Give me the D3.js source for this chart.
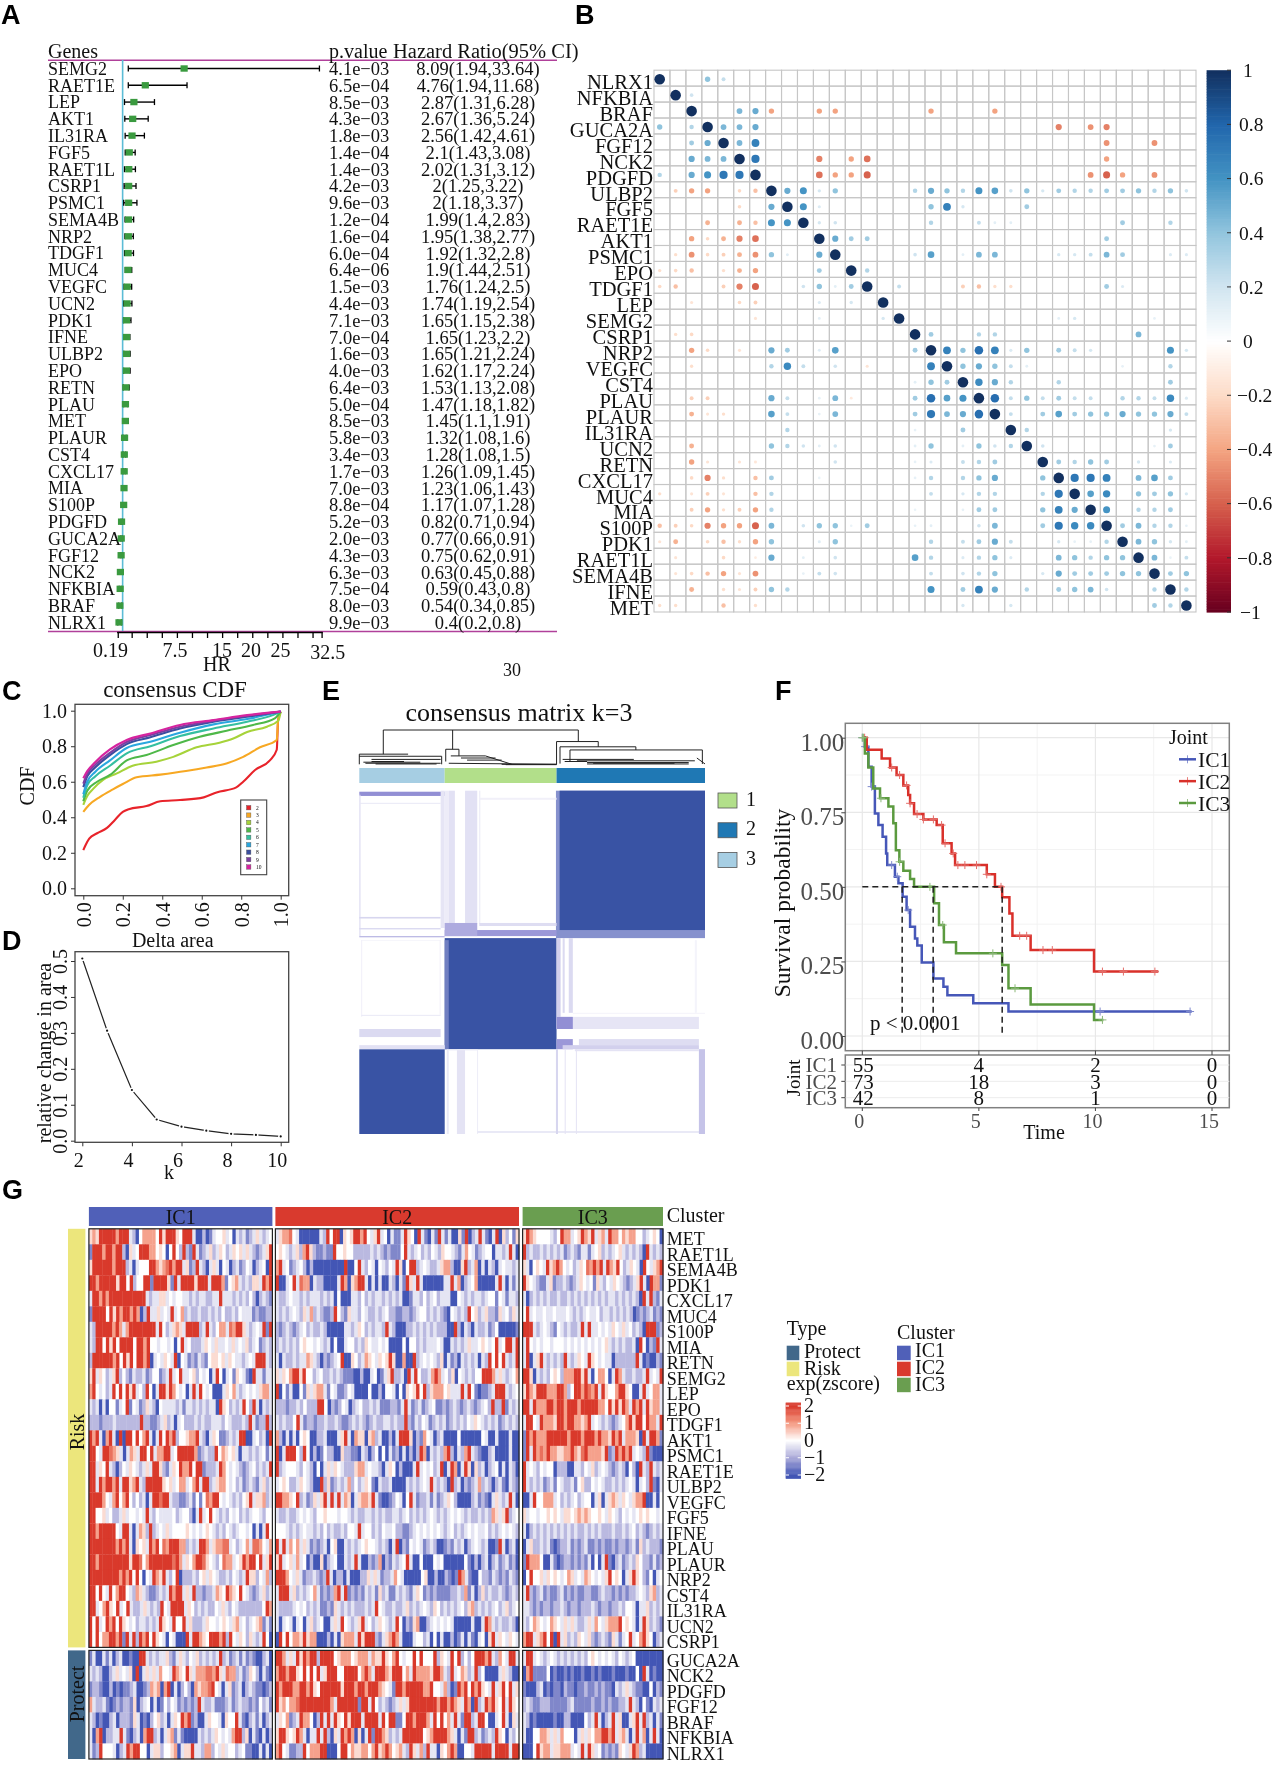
<!DOCTYPE html>
<html>
<head>
<meta charset="utf-8">
<script src="https://cdnjs.cloudflare.com/ajax/libs/d3/7.8.5/d3.min.js"></script>
<style>
  html, body { margin: 0; padding: 0; background: #fff; }
  svg { display: block; filter: blur(0.35px); }
  text { font-family: "Liberation Serif", serif; fill: #111; }
  .tag { font-family: "Liberation Sans", sans-serif; font-weight: bold; font-size: 27px; fill: #000; }
</style>
</head>
<body>
<div id="chart"></div>
<script>
// --- panel A: univariate cox
const coxGenes = ["SEMG2","RAET1E","LEP","AKT1","IL31RA","FGF5","RAET1L","CSRP1","PSMC1","SEMA4B","NRP2","TDGF1","MUC4","VEGFC","UCN2","PDK1","IFNE","ULBP2","EPO","RETN","PLAU","MET","PLAUR","CST4","CXCL17","MIA","S100P","PDGFD","GUCA2A","FGF12","NCK2","NFKBIA","BRAF","NLRX1"];
const coxP = ["4.1e−03","6.5e−04","8.5e−03","4.3e−03","1.8e−03","1.4e−04","1.4e−03","4.2e−03","9.6e−03","1.2e−04","1.6e−04","6.0e−04","6.4e−06","1.5e−03","4.4e−03","7.1e−03","7.0e−04","1.6e−03","4.0e−03","6.4e−03","5.0e−04","8.5e−03","5.8e−03","3.4e−03","1.7e−03","7.0e−03","8.8e−04","5.2e−03","2.0e−03","4.3e−03","6.3e−03","7.5e−04","8.0e−03","9.9e−03"];
const coxHr = [8.09,4.76,2.87,2.67,2.56,2.1,2.02,2,2,1.99,1.95,1.92,1.9,1.76,1.74,1.65,1.65,1.65,1.62,1.53,1.47,1.45,1.32,1.28,1.26,1.23,1.17,0.82,0.77,0.75,0.63,0.59,0.54,0.4];
const coxLow = [1.94,1.94,1.31,1.36,1.42,1.43,1.31,1.25,1.18,1.4,1.38,1.32,1.44,1.24,1.19,1.15,1.23,1.21,1.17,1.13,1.18,1.1,1.08,1.08,1.09,1.06,1.07,0.71,0.66,0.62,0.45,0.43,0.34,0.2];
const coxHigh = [33.64,11.68,6.28,5.24,4.61,3.08,3.12,3.22,3.37,2.83,2.77,2.8,2.51,2.5,2.54,2.38,2.2,2.24,2.24,2.08,1.82,1.91,1.6,1.5,1.45,1.43,1.28,0.94,0.91,0.91,0.88,0.8,0.85,0.8];
const semg2MarkerHr = 11.2; // the square sits here in the picture, not at 8.09
const hrTicks = [0.19,2.5,5,7.5,10,12.5,15,17.5,20,22.5,25,27.5,30,32.5,34];
const hrLabels = ["0.19","7.5","15","20","25","32.5"];
const hrLabelAt = [-1,9.7,17.5,22.3,27.2,35]; // printed off their ticks in the original

// --- panel B: correlation
const corrGenes = ["NLRX1","NFKBIA","BRAF","GUCA2A","FGF12","NCK2","PDGFD","ULBP2","FGF5","RAET1E","AKT1","PSMC1","EPO","TDGF1","LEP","SEMG2","CSRP1","NRP2","VEGFC","CST4","PLAU","PLAUR","IL31RA","UCN2","RETN","CXCL17","MUC4","MIA","S100P","PDK1","RAET1L","SEMA4B","IFNE","MET"];
// one row per gene: column index, value, column index, value ...
const corrRows = [
[0,1,3,.3,4,.15],
[1,1,2,.12],
[2,1,5,.35,6,.4,7,-.3,10,-.3,11,-.3,17,-.3,21,-.3],
[0,.3,2,.2,3,1,4,.35,5,.35,6,.4,25,-.4,27,-.35,28,-.4],
[2,.25,3,.4,4,1,5,.35,6,.6,28,-.35,31,-.35],
[2,.4,3,.35,4,.35,5,1,6,.65,10,-.4,12,-.3,13,-.45,28,-.3],
[0,.2,2,.4,3,.5,4,.65,5,.65,6,1,10,-.45,11,-.3,12,-.3,13,-.5,27,-.35,28,-.5,29,-.3,31,-.35],
[1,-.15,2,-.3,3,-.3,5,-.12,6,-.2,7,1,8,.4,9,.5,10,.1,11,.3,16,.2,17,.4,18,.3,19,.2,20,.5,21,.45,22,.12,23,.3,24,.1,25,.25,26,.2,27,.2,28,.25,29,.25,30,.3,31,.2,32,.3,33,.12],
[5,-.12,7,.4,8,1,9,.5,10,.08,17,.3,18,.6,19,.1,23,.25],
[3,-.25,5,-.25,6,-.2,7,.5,8,.5,9,1,10,.1,11,.12,17,.2,20,.15,21,.06,22,.06,29,.25,32,.2],
[2,-.3,3,-.12,4,-.25,5,-.4,6,-.45,10,1,11,.4,12,.25,13,.25,28,.25],
[1,-.1,2,-.35,3,-.12,4,-.15,5,-.25,6,-.35,7,.3,8,.07,10,.4,11,1,16,.12,17,.45,19,.06,20,.35,21,.35,25,.1,26,.1,27,.15,28,.35,29,.25,32,.08,33,.08],
[0,-.1,1,-.12,2,-.2,4,-.1,5,-.25,6,-.3,10,.25,12,1,13,.2],
[0,-.12,1,-.2,4,-.15,5,-.4,6,-.5,9,.12,10,.3,11,.06,12,.25,13,1,15,.15,19,-.15,20,-.2,21,-.1,22,-.1,28,.25,29,.08],
[2,-.08,5,-.12,6,-.15,10,.08,12,.1,14,1],
[6,-.08,10,.06,14,.1,15,1,25,.06,26,.1,31,.05],
[1,-.1,2,-.12,16,1,17,.25,20,.2,21,.2,30,.35],
[2,-.3,3,-.12,5,-.08,7,.4,8,.25,10,.07,11,.45,16,.25,17,1,18,.6,19,.3,20,.7,21,.6,22,.08,23,.3,25,.25,26,.15,27,.1,32,.5,33,.1],
[2,-.1,7,.2,8,.55,9,.15,11,.12,13,-.08,17,.6,18,1,19,.3,20,.4,21,.3,22,.15,23,.06,29,.05,32,.2],
[16,.06,17,.3,18,.25,19,1,20,.55,21,.4,22,.2,25,.2,32,.25],
[2,-.15,3,-.15,7,.4,8,.15,10,.05,11,.35,12,-.06,16,.25,17,.7,18,.45,19,.5,20,1,21,.7,22,.15,23,.3,24,.15,25,.25,26,.15,27,.15,29,.2,30,.2,31,.15,32,.55,33,.08],
[2,-.25,3,-.08,4,-.1,7,.45,8,.15,10,.05,11,.35,16,.25,17,.65,18,.35,19,.4,20,.7,21,1,22,.15,24,.25,25,.45,26,.25,27,.3,28,.3,29,.4,30,.3,31,.3,32,.4,33,.15],
[8,.2,16,.05,19,.25,22,1,23,.2,32,.1],
[2,-.25,7,.3,8,.2,9,.12,10,.06,11,.12,16,.06,17,.3,19,.06,20,.3,21,.12,22,.2,23,1,24,.12,31,.05,32,.25],
[2,-.3,3,-.08,5,-.08,6,-.07,11,.12,16,.05,17,.08,19,.15,20,.2,21,.25,24,1,25,.25,26,.2,27,.3,28,.25,30,.1,32,.08],
[2,-.12,3,-.4,4,-.1,6,-.2,7,.25,10,.04,16,.05,17,.2,19,.2,20,.3,21,.4,24,.3,25,1,26,.65,27,.65,28,.6,30,.35,31,.45,32,.25],
[0,-.1,2,-.08,3,-.15,4,-.08,6,-.2,7,.2,17,.15,19,.1,20,.2,21,.2,24,.2,25,.65,26,1,27,.45,28,.55,30,.3,31,.25,32,.3,33,.1],
[2,-.15,3,-.3,4,-.1,5,-.15,6,-.3,7,.2,16,.04,19,.05,20,.25,21,.25,24,.3,25,.6,26,.4,27,1,28,.5,30,.2,31,.2,32,.25],
[0,-.2,1,-.15,2,-.12,3,-.4,4,-.3,5,-.3,6,-.5,7,.35,9,.12,10,.3,11,.3,12,.04,13,.25,16,.05,17,.06,20,.12,21,.35,24,.25,25,.65,26,.55,27,.55,28,1,29,.25,30,.35,31,.2,32,.2,33,.05],
[0,-.08,1,-.25,3,-.12,4,-.2,5,-.1,6,-.3,7,.3,10,.07,11,.3,17,.2,19,.15,20,.25,21,.4,22,.15,25,.1,26,.05,27,.05,28,.2,29,1,30,.35,31,.3,32,.1,33,.06],
[1,-.08,4,-.12,6,-.05,7,.4,9,.06,11,.12,16,.45,17,.2,19,.08,20,.2,21,.3,22,.08,25,.35,26,.3,27,.2,28,.3,29,.3,30,1,31,.35,32,.04,33,.15],
[1,-.08,2,-.12,3,-.2,4,-.3,5,-.08,6,-.35,9,.05,10,.15,11,.12,17,.15,19,.12,20,.2,21,.3,24,.1,25,.4,26,.25,27,.25,28,.25,29,.3,30,.3,31,1,32,.25,33,.3],
[2,-.25,4,-.1,5,-.08,6,-.15,7,.3,8,.2,17,.5,19,.25,20,.6,21,.4,23,.2,25,.25,26,.3,27,.35,28,.12,31,.2,32,1,33,.2],
[0,-.1,1,-.1,4,-.2,6,-.1,19,.1,22,.1,31,.25,32,.2,33,1]
];
const corrStops = [-1,-.8,-.6,-.4,-.2,0,.2,.4,.6,.8,1];
const corrColors = ["#67001F","#B2182B","#D6604D","#F4A582","#FDDBC7","#FFFFFF","#D1E5F0","#92C5DE","#4393C3","#2166AC","#12305F"];

// --- panel C: consensus CDF, [x, y] read per k
const cdfK = [2,3,4,5,6,7,8,9,10];
const cdfColors = ["#e8232a","#f7a823","#a6d33a","#4eb848","#35bfa0","#2aa7df","#3a4fa0","#7b3fa0","#d6249f"];
const cdfCurves = [
[[0,.215],[.01,.24],[.03,.28],[.07,.31],[.12,.34],[.16,.385],[.2,.43],[.23,.445],[.32,.463],[.39,.49],[.49,.497],[.61,.512],[.675,.54],[.775,.568],[.81,.6],[.87,.666],[.945,.72],[.98,.78],[.987,.947],[1,.995]],
[[0,.43],[.03,.47],[.085,.515],[.15,.557],[.2,.587],[.27,.625],[.39,.64],[.52,.66],[.625,.68],[.725,.703],[.81,.74],[.895,.794],[.98,.835],[.987,.947],[1,.995]],
[[0,.47],[.02,.52],[.05,.56],[.1,.61],[.17,.647],[.25,.69],[.37,.713],[.456,.74],[.574,.794],[.69,.82],[.76,.844],[.83,.88],[.93,.91],[.988,.944],[1,.995]],
[[0,.49],[.02,.55],[.07,.6],[.135,.638],[.22,.72],[.32,.75],[.456,.807],[.59,.853],[.726,.887],[.86,.92],[.97,.957],[1,.995]],
[[0,.51],[.02,.58],[.06,.63],[.135,.69],[.22,.76],[.34,.8],[.49,.857],[.66,.9],[.83,.938],[.96,.975],[1,.995]],
[[0,.53],[.02,.6],[.06,.655],[.135,.72],[.22,.79],[.34,.825],[.49,.876],[.66,.923],[.83,.953],[1,.995]],
[[0,.57],[.02,.63],[.06,.68],[.135,.75],[.22,.812],[.34,.85],[.49,.9],[.66,.938],[.83,.966],[1,.995]],
[[0,.59],[.02,.645],[.06,.695],[.135,.763],[.22,.824],[.34,.863],[.49,.91],[.66,.944],[.83,.972],[1,.995]],
[[0,.62],[.02,.66],[.06,.71],[.135,.782],[.22,.835],[.34,.872],[.49,.92],[.66,.947],[.83,.975],[1,.995]]
];

// --- panel D: delta area
const deltaK = [2,3,4,5,6,7,8,9,10];
const deltaArea = [.507,.306,.141,.059,.039,.028,.019,.016,.012];

// --- panel E: consensus matrix, [sample0, sample1, row0, row1, level]
const sampleGroups = [["3",0,42,"#a6cee3"],["1",42,97,"#b2df8a"],["2",97,170,"#1f78b4"]];
const legendGroups = [["1","#b2df8a"],["2","#1f78b4"],["3","#a6cee3"]];
const consensusRects = [
[96.7,170,0,73,.72],[98.5,170,0,69,1],[42,97,73,128,1],[42,44,74,128,.8],[0,42,128,170,1],
[0,42,.5,2.6,.6],[0,.6,2,72,.18],[0,40,6,6.5,.12],[0,40,62.5,63.3,.22],[0,40,68,68.7,.2],[0,42,72,72.6,.4],
[40,42,0,68,.14],[42,44,0,66,.1],[44,47,0,66,.16],[52,58,0,66,.16],[59,59.5,0,66,.12],[59,97,3.5,4.5,.08],[59,97,65.5,67,.18],
[42,97,69,72,.55],[42,58,65.5,72,.45],
[97,99,73,112,.25],[100,101,73,110,.2],[103,105,73,110,.2],[97,167,112,118,.14],[97,105,112,118,.6],
[108,167,123,126,.18],[97,105,123,128,.55],[100,167,126,128,.25],[105,170,110,110.4,.08],[165,166,74,110,.06],
[1,40,74,74.3,.08],[1,1.4,74,112,.1],[1,40,111,111.5,.12],[39.5,40,74,111,.08],[0,40,118,122,.2],[0,42,126,128,.16],
[43,44,128,170,.12],[48,52,128,170,.15],[58,58.4,128,170,.12],[58,170,168.5,169.5,.12],[96.7,97.7,128,170,.22],
[101,101.5,128,170,.15],[106.5,107,128,170,.15],[167,170,128,170,.32],[106,167,128,129,.15],[44,58,128,128.6,.12]
];
// dendrogram segments: [sample0, height0, sample1, height1]
const dendroSegments = [
[11.8,1,107.7,1],[11.8,1,11.8,.31],[0,.31,24,.31],[0,.31,0,.02],[0,.25,40.5,.25],[40.5,.25,40.5,.02],[6,.16,40,.16],[6,.1,22,.1],[3,.05,40,.05],
[45.9,1,45.9,.45],[42.5,.45,49,.45],[42.5,.45,42.5,.1],[49,.45,49,.26],[45,.26,62,.26],[62,.26,75,.02],[50,.2,67,.2],[53,.14,70,.14],[44,.05,97,.02],[70,.02,97,.02],
[107.7,1,107.7,.67],[97,.67,117.5,.67],[97,.67,97,.02],[117.5,.67,117.5,.52],[98.7,.52,136,.52],[98.7,.52,98.7,.04],[136,.52,136,.43],[103.6,.43,168.7,.43],[103.6,.43,103.6,.1],[168.7,.43,168.7,.03],
[100,.16,135,.16],[107,.12,165,.12],[112,.07,162,.07],[112,.03,162,.03],[166,.2,170,.03],[101,.1,112,.1],
[2,.08,30,.08],[8,.03,38,.03],[72,.01,97,.01],[115,.05,155,.05]
];

// --- panel F: survival curves, [time, survival] at each drop
const kmNames = ["IC1","IC2","IC3"];
const kmColors = ["#4657b8","#d9302a","#5b9a3f"];
const kmSteps = [
[[0,1],[.11,.97],[.26,.903],[.4,.836],[.54,.746],[.69,.707],[.87,.668],[1.02,.612],[1.07,.573],[1.4,.534],[1.55,.512],[1.73,.467],[1.9,.422],[2.05,.366],[2.26,.327],[2.36,.303],[2.55,.246],[3.05,.193],[3.48,.165],[3.65,.137],[4.76,.11],[6.27,.082],[14.13,.082]],
[[0,1],[.19,.96],[.83,.93],[1.19,.9],[1.47,.875],[1.76,.84],[1.97,.808],[2.05,.78],[2.22,.744],[2.62,.726],[3.19,.707],[3.45,.646],[3.83,.612],[3.98,.573],[5.34,.542],[5.69,.5],[6,.465],[6.31,.411],[6.44,.336],[7.22,.288],[9.94,.216],[12.7,.216]],
[[0,1],[.11,.947],[.26,.9],[.47,.83],[.76,.797],[1.12,.769],[1.33,.713],[1.44,.623],[1.59,.584],[1.76,.554],[2.05,.526],[2.22,.5],[3.08,.445],[3.29,.372],[3.5,.314],[4.02,.277],[6,.238],[6.27,.16],[7.22,.106],[9.94,.054],[10.34,.054]]
];
const kmCensor = [
[0,.12,.4,1.26,1.5,1.97,10.2,14.06],
[.1,1.26,1.6,1.9,2.05,2.35,2.62,3.05,3.4,3.55,3.9,4.1,4.4,4.9,5.34,5.95,6.75,7.05,7.75,8.15,10.3,11.2,12.55],
[0,.05,.8,1.6,2.9,3.45,5.6,6.55,10.3]
];
const medianTimes = [1.71,3.04,6];
const riskTimes = [0,5,10,15];
const riskCounts = [[55,4,2,0],[73,18,3,0],[42,8,1,0]];

// --- panel G: expression heatmap, one letter per sample (B blue ... w white ... R red)
const heatLevels = { B:-2, b:-1.4, m:-.8, l:-.3, w:0, p:.35, o:.9, r:1.4, R:2 };
const heatGenes = ["MET","RAET1L","SEMA4B","PDK1","CXCL17","MUC4","S100P","MIA","RETN","SEMG2","LEP","EPO","TDGF1","AKT1","PSMC1","RAET1E","ULBP2","VEGFC","FGF5","IFNE","PLAU","PLAUR","NRP2","CST4","IL31RA","UCN2","CSRP1","GUCA2A","NCK2","PDGFD","FGF12","BRAF","NFKBIA","NLRX1"];
const heatTypes = ["Risk","Protect"];
const typeCounts = [27,7];
const typeColors = ["#ece67c","#41688a"];
const clusterNames = ["IC1","IC2","IC3"];
const clusterColors = ["#5060b8","#d93a2e","#6a9e50"];
const heatIC1 = [
"popRRRRRoRRRlmBwoooowRpRRRpwRRRlBBmBblwwplwBlmlbmlplmlw",
"bRRRoRRoRRmBplwRRRoowpwBwRwmRmbRlbmlpmlpwmlpwplplmbmlpR",
"pRRRRRRoRRRmlBlwwwRRoporRoRRlpbmRlmBlplBwlBmlbmwlBmlwBR",
"RRoRRRRRpRRwRmwwRRbRRRRpbRlRRRRpRRRlRRRobwpolmlmpplRoR",
"lRRoRoRRRRRRRRRRRlmllpplwlwwllmlmllmmllRlllmlmlmwmBmlmb",
"bRRRRwRpRoRRoRoBmRllplwlRlwomlmmlmmlmlmwmmlmwlllbmbbmm",
"lmRRRRRoRoloRRRRRRRRlRwmlpoplRRRRmlRlmwoolroRRplmlwlRbR",
"lmRRwRpRwRRRRwRRoRwwlwwlwBwRlwmmmlpwlpllwlplwlpmlwbmlm",
"mRRRRRRoRwRpRwRRoRBlwlpwlRBwlbmblmbwppwplpwllmlwlRRRlm",
"pRlpwmlpRmwmblmmlbmwwbmlRlwRllwpmwlwBlRwBlwbpwlbBRllbll",
"oRwlwmlRwRwRpRlwmRwBlRRpRowlwBlRlRwlwBBBlpwolmlwlwlpool",
"lmlBlBwwblwRbwlbmplmBwllllmlbllmlmlmllBRpwmlmlRwmRlBlml",
"mmmbmmmlmmmmmmmRmmbbmlpmlBlwmmmlmlmmlllmwlmmmlmRlbmmRm",
"RoRlBoRlBRBRRwRwoRlBlRwRoRmwwpooRlmBlpwbbmlmlRRBBlwmlBR",
"RRwlRRroplBloplRRwRlooRRlwRRRRRobmlmmRwopwplBllmlmlwbl",
"RRlpwRlmBmwlpwlmlplRRpmblpwRooRwRRbmmmlRowlwlmbmlwmlmlR",
"RRlRoRRoRlRRpoRlmRRRRRpwplwoolwoRlRRmlpoowlwmlbmlmblpml",
"RRRRowloRwoRwmwmlBlRRrRRlmmbbmlbwbwroRRwlwlmlmwpRlppoml",
"RRwwplwmmlplwwlwlRlmwllllwmlwwmBlRlwRwlmlmwlwmlmlwwlmww",
"RRoRRRRRwlRRlBlopmRmlwlplwwwwpwlwlwpwlmlmwlmlwwlwBlBlRw",
"RRRRRRRRoRoRlBpwplRoRwroRRRoomlmlRRolpoorrlwmlwolrrowlo",
"RRoRRRRRRRRRpRRrwoRRRRRRRrRolpwoRRrpwlmwroolwpRoRRwRlpR",
"RRRRRRRRRoRoRwRwBwlRopRlmwRBmmmlmwplpwlmmlmwlmlRppmwlom",
"RRwRwlRwoRRwlmoplmbbmlmlRoRRlplRmmbmmlopwRopwRwlmbmlpml",
"RRlwoRpwRlwRlmmlplmlmRwlRRRRlpwmlmlmmwlplmwlmmmmmmmwRo",
"RwRlwRoRwRpwlwmllmlmlRpwlRwwRlpmmmlpwwlwpwlpolwmlwpoblb",
"RwRwooRRoRbRlRmRoRwRpwlBwlBBBRlRRopwRRRoRmRwlpwmplmlRwB",
"blBBlblBmlBBbBBRRlmlmllpmblplmwlpmlmlmlRmlbmlblbmbBBmlB",
"lmlmBBmlplwlpBRBlplplowwlRopwRplooorroRplroomlbmpwmBlbB",
"bmmbBBmBbBbbmlBBbmopoBoRBlBmwmBopoorRwlBlpbmlBmlmbbBbm",
"olmmlbBbmbmmbpBmlwBlBbwmwlbmbmbmRlmmlbbbmlbmlmmbmbwmlb",
"lmBbBBmlBmmmbplBbBmwpmlBlpwRoRbmBBlpwwlBpwwRlbBmlblBml",
"lBoRBmmllRlbBmlBoRRmlBlpoblbBBBBlmlmlpwlwloRRmpBlbBlBm",
"lbmRwwwlBmlRoRRwwBlppmwwpoBlppRllmoomwlplwwmlwbbBBlBlB"
];
const heatIC2 = [
"lpoorwlBBBBBBlmRwRRBpwpRRoRwlpRlwBlbblRpwBRlbBlbRlblBBpbRBmlRlbBlRBpmwbp",
"wpwlmlpmoRpmbbmbbRwwpwwmmmmmlmlmbmbbbwRlmlwmlmwlmpwwlmblowlbmlwwBllmlRlB",
"oRlwbmlwmBmBBBBBBBBBRBBwRlmwlBwlmwlRpBwRRmlwlmmlpoomBBpRmloBlBlmBlwllml",
"RBBlwRlrooBlmmBBBBlRoBpoRRlBlBlBBlmBlbRplRlBBBBBBllRloBmlwoBBBBBlRlBlbl",
"lmmlwllmlmlllmlmlBwBBBllmwmlmllmlmlmlBBbllmwmlwmlllBBwlmlmllmlwwbwlbllm",
"lmlmlwlmplomlmbbmRwmbpllmwlmmlmlwmmbbmmbmlwwmlmlmbBwlmlmRwpmlpmmbplwmpl",
"mbmlmbmlwmlmmlmBBBBBllmlpwmlmllmRlmBBBmmlmlmlmlmmmBBRmBlmBlmmlbmwBBBBBb",
"mlmlmlmwpwwlwlmlBwBBlwwmlmpwllwlwBBBBwBwwmlmlllwlBBlmlmlpllwpwlwRlwRRlR",
"lBlmmlmlloplmBmbmlwRBBpwmlopwlpwpRpBBoBBRmlwlwlmpBlbmBlmlmlBlmRwRwRlmlR",
"plpwoRRpRwwmlwmmlmlmbbbBBmBBlwBblpRmmlBRlRwmmloRolwmpBwlmlmwwRRRolplmlwo",
"RBwblBBwbplpoolbwlbbmwlBBBBwBBmBwwlBwBpwpRwRmpooowplllRlRwbBbbmlRRRlmlw",
"mmmbmmlmwmmmRRwBmbmwlBmlwmmlmlbbbmmblRlbmlbmlwbbmbmlmbmlmbmlwmRmmRblml",
"lmlmmwRlbmmbmmlmmlmbbmlmlmbmlmmllmlmmRmblmwlbmlmlbmlmlmwlpwlmlmlbmlmlm",
"omBlBlBwpwBBmmlBBBlpRlBoppBpomlBBmBlRRRpBmbowlBmlBBBBwBBBBBBwlBBlBBBlBB",
"RBlRRRwmRwBmBbwmmBBpmmbbBlmBmwBwBlbmBlBmBmRoBlmlmoRmBlmoRlmbBBmlBBBBlBB",
"RmlwwwlmwlmBwBlplpwlmmmpoolwllmBlpwBmBBBlRlwlwmlRBlRoBlRpBpmlBmlwBlBlmB",
"lwpwmmlpwlmBBRmpbmlmlomwmlpwbBlmmlBBBBlmlmlwlRlmlmBRmlBmbmlomlmBmlbBlmb",
"RRoopwRmlbmplpRlRlRlopBlpoopRlbBBbmwlBwRlbmmlblbmlpwmBBBBmlbmbBlplmlRlB",
"lmmlmmlwlwlmwwpwwwlwwlmlmmllmlmlmmllmlwmlmlmlwlmlmlwlwlmlmmlmlmoplpRmlw",
"wwwlmlmlwllmlmwmlmmlmwwlRlwwmlmwllwmmbbmlwlwlwlwlmlwmlmlwlwllwmlmlwlwlm",
"RlRlowolplbmbmlBwpBBlmlmlwpwwlmlmBlRBmbwlwlbmlmBBbmblmlBmlwlmlBBbRlBmlB",
"pRlwplolwBmBBpBmlwBBlmlRlBBmbmoBmblmlwRlBBwBBBwlwBBBBBBwbBmBmlBmlbmlbmB",
"RRRowlplbmmlmbmRlBmmBlBBBmmplplbmmlowlBBBBBwpBBmBBmbBbRolbBBwmmblmbmblmb",
"lRRRlpmlmlwolbmbmoRlRbmbmblmlbpmlbblmlmblpwbmbmbbbbmmlmoblBmpmlmmlmbmlm",
"lmmmmlwlwmlmlbbmbplmlmlmmmlmlRwlmmlmmlpmlmlwlmpwmlmlmlwmpomlmlmlwmlpmlw",
"lBlwlBlwBlpmlwBBlplRwlmlpRlwmlpwlmlRwBmbpoBBmlwlwlwlBBBBBlBBlRolmlmmlmB",
"BRwRwoopRpooBBBmBlBpooolRpRRRmblpoRolBBBlwwmlBwBlBBmBblBlbBlwBpRlpwlpwl",
"RRolplRpRoRRmRRRRwpooowpoooloppRpwoRwlwwRwRwwwRmpwlRwRmwmwRRRoRlmowlRRl",
"oRRoRRpwRwRwRlpRRRwwRRRRwoRolRRRopRRRwolRoooopRRolmRlwopmlRmwBBBBlplmBB",
"RoRRRooRRoRpwRRRRRRpRRRoRRoRRRopwlbRRoRRRRRooRwwlomBbRoRwRoRpwlRlpRwRlp",
"RpowoorRRRRRRRRRolRRRRRRbRRlRwmlmbmlplpRRRRRRRRoRRoRoplRoBRmlRoRpwRlRpw",
"lpwobmlRoowBmRlRlRpwRpRRRlRRRRlRwRRbbwRRoRRRolRwRwolRlbRRmlRRwBBlwRlBpl",
"pRRpwpRolBllRlRmBplRoRoBpBlRbRRopmlmlRRRRRRwpoRRRRoplBlbRRmlbmlmRpwBlmw",
"oRwlbbmmRwoooRRBBBwRRwoppoowoRpoRowpolmRplomRllBpwoRoBBwwlRRRRRlRRRRlRR"
];
const heatIC3 = [
"pRopwwwwlmwRoolwpRopRlpolRoowopoowwmlwpwB",
"RmlmmlmlmlmlbmlmbllblwpmlmlwplmlmlmBRlmlm",
"plBwpwlRpoRowlwmlpwroRoRlRopRwmlpwlBRwlpoR",
"RpwlmbblpbmmlmbmlpwlwbplmwlpwlmbmlpRlBRoob",
"lBmlmlmlmmlmmlmlmlmlmlmlmllmlmlmlmBRlRmbl",
"wRlwllwllwlllwlmlmlwllwmllmlmlmlmBbmbmlbmb",
"RRRlmlwlmbwlmlmmlRlRllwlwlpwlplwmlmBRRRbm",
"lRwlwlwwlwwwlwlwlwlwlwlwplmlmlmmlBRwBmbRl",
"lRBlpRlmlmlmRlmlpwlRpwlwllBmmmmmmRlBbBBmb",
"RRpBlmlmwpwmoooRRpRlBwoowBlRolmmlmmlRlwlR",
"pRopRRRoooRRomwRRoRroRlRpwwoRRpwBBlRlwool",
"RRlRoooRRoRRoRRRoRRRRRoowRpRpRolRoRlRpool",
"lRRwlRooopRRoRRoopoRlwlmlmbmlwoRpRRwRoolR",
"bRoRoooRRRRRRoRRRoRRRoRoopRoRlooopBRlRRob",
"bRlRoroRooppooRoprRoooopRbmRoRoRlwlmRbBBB",
"RlwlmwlwwBmmmBBllmwlpmlwlmbmlmBwmBRlmRlml",
"RlmlmlbmlbwlmmlbwpmmwlwlmmlmlmlwlBlwmRbBl",
"BBlRwwooolwmlmlwmlwwBlpBlpoplpwlpooRBBlBw",
"plwwlwwpwpwlppwpopopwwpwlpwlmwlwlwpwpwwlw",
"lBmlmlmlmlmlmlmlmmlmlmlmmmlmmlmlwmlmbmlml",
"BlpmmlmlbBbmmlbmbmlbbmbmbbmbmmbmlbpmlmmmb",
"bRooowBBlbBbmmbmbmblBwBlRbBmlbmlmpwmmblbm",
"BwRwwplpwpwlwoplwlopwlwlpRwpwBlpRpwmbwBlw",
"lRmbmlbmbbmlbmbmbbmmbbmlmmbmbmbmmlwlmpoml",
"llmbmbmmbmmlmbmmbmmmlmbmmbmmlmwwlBllpmlml",
"lmwopwlwopwlplplmmlplowlpoooRwpwlBlRpmlmb",
"oRRlpoRwRBRlpmlmpwlpmbmlmbplblwRlwoRpwBml",
"lRRlwlmlwlmlmlmlmlmwpwlwlwlmwlmlwBBBBBBBB",
"BoRbbbbwBbBBbBbBBbBBbBbBBBbBBBbBBwBRlBbBB",
"bBBBmlBbBbbBmbbBbbmbbmbmbbBlmlplmbbBBwBmb",
"mlmbbmmmbbbbbmlbbbbbmbbmbmbbmmlRlmBwbBlml",
"lmBbBBBBBbBBmmBBBBwmlRlBmlRlpBBlpRlRmlBlb",
"lBBwwooplplowwwBlplpwooRRoRlpolBlRloBlRlB",
"BBBwRpoolppooolwlRlRplwbmbmbpwlpRomlBBBBB"
];

const svg = d3.select("#chart").append("svg").attr("width", 1273).attr("height", 1765);

const txt = (g, x, y, str, size, anchor = "start", rotate = 0) =>
  g.append("text")
    .attr("transform", `translate(${x},${y})` + (rotate ? ` rotate(${rotate})` : ""))
    .attr("dy", ".35em")
    .attr("text-anchor", anchor)
    .attr("font-size", size)
    .text(str);

[["A", 1, 24], ["B", 575, 24], ["C", 2, 700], ["D", 2, 950], ["E", 322, 700], ["F", 775, 700], ["G", 2, 1199]]
  .forEach(([t, x, y]) => svg.append("text").attr("class", "tag").attr("x", x).attr("y", y).text(t));

// ---------- A
(function () {
  const g = svg.append("g");
  const x = d3.scaleLinear().domain([0, 34.1]).range([116.6, 322.2]);
  const y = d3.scalePoint().domain(coxGenes).range([68.5, 622.4]);
  const purple = "#b0409a";
  g.append("line").attr("x1", 48).attr("x2", 557).attr("y1", 60.3).attr("y2", 60.3).attr("stroke", purple).attr("stroke-width", 1.4);
  g.append("line").attr("x1", 48).attr("x2", 557).attr("y1", 631.5).attr("y2", 631.5).attr("stroke", purple).attr("stroke-width", 1.4);

  const axis = g.append("g").attr("transform", "translate(0,632)")
    .call(d3.axisBottom(x).tickValues(hrTicks).tickFormat("").tickSize(6).tickSizeOuter(0));
  axis.selectAll("line").attr("stroke", "#000").attr("stroke-width", 1.3);
  axis.select(".domain").attr("stroke", "#000").attr("stroke-width", 1.6);
  g.append("line").attr("x1", x(1)).attr("x2", x(1)).attr("y1", 60).attr("y2", 631).attr("stroke", "#5bbcd6").attr("stroke-width", 1.6);

  txt(g, 48, 51, "Genes", 20);
  txt(g, 329, 51, "p.value", 20);
  txt(g, 393, 51, "Hazard Ratio(95% CI)", 20.5);

  coxGenes.forEach((d, i) => {
    const row = y(d);
    txt(g, 48, row, d, 18);
    txt(g, 329, row, coxP[i], 18.5);
    txt(g, 478, row, `${coxHr[i]}(${coxLow[i]},${coxHigh[i]})`, 18.5, "middle");
    g.append("line").attr("x1", x(coxLow[i])).attr("x2", x(coxHigh[i])).attr("y1", row).attr("y2", row).attr("stroke", "#000").attr("stroke-width", 1.4);
    [coxLow[i], coxHigh[i]].forEach((v) =>
      g.append("line").attr("x1", x(v)).attr("x2", x(v)).attr("y1", row - 3).attr("y2", row + 3).attr("stroke", "#000").attr("stroke-width", 1.3));
    const mark = i === 0 ? semg2MarkerHr : coxHr[i];
    g.append("rect").attr("x", x(mark) - 3.6).attr("y", row - 3.2).attr("width", 7.2).attr("height", 6.4).attr("fill", "#3a9a3f");
  });

  hrLabels.forEach((d, i) => txt(g, x(hrLabelAt[i]), i === 5 ? 652 : 650, d, 20, "middle"));
  txt(g, 217, 664, "HR", 20, "middle");
  txt(g, 512, 670, "30", 18, "middle");
})();

// ---------- B
(function () {
  const g = svg.append("g");
  const color = d3.scaleLinear().domain(corrStops).range(corrColors);
  const cell = d3.scaleBand().domain(corrGenes);
  const xGrid = cell.copy().range([654, 1196]);
  const yGrid = cell.copy().range([70.2, 612]);
  const xDot = d3.scalePoint().domain(d3.range(34)).range([659.7, 1186.4]);
  const yDot = d3.scalePoint().domain(d3.range(34)).range([79.2, 605.5]);
  const r = d3.scaleLinear().domain([0, 1]).range([0.9, 5.3]);
  const boost = d3.scalePow().exponent(0.75).domain([0, 1]).range([0, 1]);

  corrGenes.forEach((a) => corrGenes.forEach((b) => {
    g.append("rect").attr("x", xGrid(a)).attr("y", yGrid(b)).attr("width", xGrid.bandwidth()).attr("height", yGrid.bandwidth())
      .attr("fill", "none").attr("stroke", "#c6c6c6").attr("stroke-width", 1.1);
  }));
  corrRows.forEach((row, i) => {
    for (let k = 0; k < row.length; k += 2) {
      const v = boost(Math.abs(row[k + 1]));
      g.append("circle").attr("cx", xDot(row[k])).attr("cy", yDot(i)).attr("r", r(v)).attr("fill", color(Math.sign(row[k + 1]) * v));
    }
  });
  corrGenes.forEach((d, i) => txt(g, 653, yDot(i) + 2.5, d, 20.5, "end"));

  const bar = d3.scaleLinear().domain([-1, 1]).range([612, 70.2]);
  d3.range(-1, 1, 0.01).forEach((v) =>
    g.append("rect").attr("x", 1206.6).attr("width", 24.4).attr("y", bar(v + 0.01)).attr("height", bar(v) - bar(v + 0.01) + 0.6).attr("fill", color(v + 0.005)));
  corrStops.forEach((v) => {
    g.append("line").attr("x1", 1227).attr("x2", 1231).attr("y1", bar(v)).attr("y2", bar(v)).attr("stroke", "#333").attr("stroke-width", 1);
    const s = v === 0 ? "0" : (v < 0 ? "−" : "") + (Math.abs(v) === 1 ? "1" : Math.abs(v).toFixed(1));
    const single = v === 0 || v === 1;
    txt(g, single ? 1243 : (v === -1 ? 1240 : (v < 0 ? 1237 : 1239)), bar(v), s, 19.5);
  });
})();

// ---------- C
(function () {
  const g = svg.append("g");
  const x = d3.scaleLinear().domain([0, 1]).range([83.3, 280.7]);
  const y = d3.scaleLinear().domain([0, 1]).range([888.3, 710.7]);
  const line = d3.line().x((d) => x(d[0])).y((d) => y(d[1])).curve(d3.curveMonotoneX);
  cdfCurves.forEach((c, i) =>
    g.append("path").attr("d", line(c)).attr("fill", "none").attr("stroke", cdfColors[i]).attr("stroke-width", 2.1));
  g.append("rect").attr("x", 75).attr("y", 704.3).attr("width", 213.7).attr("height", 191.4).attr("fill", "none").attr("stroke", "#444").attr("stroke-width", 1.3);

  const ax = g.append("g").attr("transform", "translate(0,895.7)").call(d3.axisBottom(x).ticks(5).tickFormat(d3.format(".1f")).tickSize(4));
  ax.select(".domain").remove();
  ax.selectAll("text").attr("y", null).attr("dy", ".35em").attr("font-size", 20).attr("font-family", "Liberation Serif")
    .attr("transform", "translate(0,19) rotate(-90)");
  const ay = g.append("g").attr("transform", "translate(75,0)").call(d3.axisLeft(y).ticks(5).tickFormat(d3.format(".1f")).tickSize(4));
  ay.select(".domain").remove();
  ay.selectAll("text").attr("x", -8).attr("font-size", 20).attr("font-family", "Liberation Serif");
  g.selectAll(".tick line").attr("stroke", "#333");

  txt(g, 175, 689, "consensus CDF", 23, "middle");
  txt(g, 27, 786, "CDF", 20, "middle", -90);

  g.append("rect").attr("x", 240.7).attr("y", 800).attr("width", 26).attr("height", 74.7).attr("fill", "#fff").attr("stroke", "#444").attr("stroke-width", 1.1);
  const ly = d3.scalePoint().domain(cdfK).range([807.7, 867]);
  cdfK.forEach((k, i) => {
    g.append("rect").attr("x", 246.5).attr("y", ly(k) - 2.2).attr("width", 4.4).attr("height", 4.4).attr("fill", cdfColors[i]).attr("stroke", "#555").attr("stroke-width", 0.4);
    txt(g, 256, ly(k), k, 5.5);
  });
})();

// ---------- D
(function () {
  const g = svg.append("g");
  const x = d3.scaleLinear().domain([2, 10]).range([82.3, 280.7]);
  const y = d3.scaleLinear().domain([0, 0.5]).range([1140.7, 961]);
  const pts = deltaK.map((k, i) => [x(k), y(deltaArea[i])]);
  g.append("path").attr("d", d3.line()(pts)).attr("fill", "none").attr("stroke", "#222").attr("stroke-width", 1.2);
  pts.forEach((p) => {
    g.append("circle").attr("cx", p[0]).attr("cy", p[1]).attr("r", 2.6).attr("fill", "#fff");
    g.append("circle").attr("cx", p[0]).attr("cy", p[1]).attr("r", 1.1).attr("fill", "#111");
  });
  g.append("rect").attr("x", 75).attr("y", 951.7).attr("width", 213.7).attr("height", 190.6).attr("fill", "none").attr("stroke", "#444").attr("stroke-width", 1.3);

  const ax = g.append("g").attr("transform", "translate(0,1142.3)").call(d3.axisBottom(x).tickValues([2, 4, 6, 8, 10]).tickSize(4));
  ax.select(".domain").remove();
  ax.selectAll("text").attr("y", null).attr("dy", ".35em").attr("font-size", 20).attr("font-family", "Liberation Serif").attr("transform", "translate(-4,18)");
  const ay = g.append("g").attr("transform", "translate(75,0)").call(d3.axisLeft(y).tickValues([0, .1, .2, .3, .4, .5]).tickFormat(d3.format(".1f")).tickSize(4));
  ay.select(".domain").remove();
  ay.selectAll("text").attr("x", null).attr("dy", ".35em").attr("font-size", 20).attr("font-family", "Liberation Serif").attr("text-anchor", "middle")
    .attr("transform", "translate(-15,0) rotate(-90)");
  g.selectAll(".tick line").attr("stroke", "#333");

  txt(g, 172.7, 940, "Delta area", 20, "middle");
  txt(g, 169, 1172, "k", 20, "middle");
  txt(g, 44, 1053, "relative change in area", 20, "middle", -90);
})();

// ---------- E
(function () {
  const g = svg.append("g");
  const x = d3.scaleLinear().domain([0, 170]).range([359.3, 705]);
  const y = d3.scaleLinear().domain([0, 170]).range([790.7, 1134]);
  const h = d3.scaleLinear().domain([0, 1]).range([765, 730]);
  // faint strips run lavender, the solid blocks run a plain dark blue
  const level = (v) => v < 0.7 ? d3.interpolateRgb("#ffffff", "#4a44b8")(v) : d3.interpolateRgb("#8c95d0", "#3953a4")((v - 0.7) / 0.3);

  txt(g, 519, 712, "consensus matrix k=3", 26, "middle");
  dendroSegments.forEach((s) =>
    g.append("line").attr("x1", x(s[0])).attr("y1", h(s[1])).attr("x2", x(s[2])).attr("y2", h(s[3])).attr("stroke", "#222").attr("stroke-width", 1));
  sampleGroups.forEach((s) =>
    g.append("rect").attr("x", x(s[1])).attr("width", x(s[2]) - x(s[1])).attr("y", 768).attr("height", 15).attr("fill", s[3]));
  consensusRects.forEach((c) =>
    g.append("rect").attr("x", x(c[0])).attr("width", x(c[1]) - x(c[0])).attr("y", y(c[2])).attr("height", y(c[3]) - y(c[2])).attr("fill", level(c[4])));
  const ly = d3.scalePoint().domain(legendGroups.map((d) => d[0])).range([800.5, 860]);
  legendGroups.forEach((d) => {
    g.append("rect").attr("x", 718).attr("y", ly(d[0]) - 7.5).attr("width", 19).attr("height", 15).attr("fill", d[1]).attr("stroke", "#555").attr("stroke-width", 0.8);
    txt(g, 751, ly(d[0]) - 2, d[0], 20, "middle");
  });
})();

// ---------- F
(function () {
  const g = svg.append("g");
  const x = d3.scaleLinear().domain([0, 15]).range([862.3, 1212]);
  const y = d3.scaleLinear().domain([0, 1]).range([1036, 737.7]);
  const left = 845.3, right = 1229.3, top = 723.3, bottom = 1050.7;
  d3.range(2.5, 15, 5).forEach((t) => g.append("line").attr("x1", x(t)).attr("x2", x(t)).attr("y1", top).attr("y2", bottom).attr("stroke", "#f3f3f3"));
  d3.range(.125, 1, .25).forEach((s) => g.append("line").attr("x1", left).attr("x2", right).attr("y1", y(s)).attr("y2", y(s)).attr("stroke", "#f3f3f3"));
  riskTimes.forEach((t) => g.append("line").attr("x1", x(t)).attr("x2", x(t)).attr("y1", top).attr("y2", bottom).attr("stroke", "#e8e8e8").attr("stroke-width", 1.2));
  [0, .25, .5, .75, 1].forEach((s) => g.append("line").attr("x1", left).attr("x2", right).attr("y1", y(s)).attr("y2", y(s)).attr("stroke", "#e8e8e8").attr("stroke-width", 1.2));

  const step = d3.line().x((d) => x(d[0])).y((d) => y(d[1])).curve(d3.curveStepAfter);
  kmSteps.forEach((c, i) => {
    g.append("path").attr("d", step(c)).attr("fill", "none").attr("stroke", kmColors[i]).attr("stroke-width", 2.5);
    kmCensor[i].forEach((t) => {
      const s = c[Math.max(0, d3.bisectRight(c.map((p) => p[0]), t) - 1)][1];
      const stroke = d3.interpolateRgb(kmColors[i], "#fff")(0.3);
      g.append("line").attr("x1", x(t) - 4).attr("x2", x(t) + 4).attr("y1", y(s)).attr("y2", y(s)).attr("stroke", stroke).attr("stroke-width", 1);
      g.append("line").attr("x1", x(t)).attr("x2", x(t)).attr("y1", y(s) - 4).attr("y2", y(s) + 4).attr("stroke", stroke).attr("stroke-width", 1);
    });
  });
  g.append("line").attr("x1", x(0)).attr("x2", x(6)).attr("y1", y(.5)).attr("y2", y(.5)).attr("stroke", "#222").attr("stroke-width", 1.5).attr("stroke-dasharray", "6 4");
  medianTimes.forEach((t) => g.append("line").attr("x1", x(t)).attr("x2", x(t)).attr("y1", y(.5)).attr("y2", y(0)).attr("stroke", "#222").attr("stroke-width", 1.5).attr("stroke-dasharray", "6 4"));
  g.append("rect").attr("x", left).attr("y", top).attr("width", right - left).attr("height", bottom - top).attr("fill", "none").attr("stroke", "#808080").attr("stroke-width", 1.5);

  const ay = g.append("g").attr("transform", `translate(${left},0)`).call(d3.axisLeft(y).tickValues([0, .25, .5, .75, 1]).tickFormat(d3.format(".2f")).tickSize(4));
  ay.select(".domain").remove();
  ay.selectAll("text").attr("x", -1).attr("dy", ".7em").attr("font-size", 25).style("fill", "#4d4d4d").attr("font-family", "Liberation Serif").attr("transform", "translate(0,-5)");
  g.selectAll(".tick line").attr("stroke", "#444");

  txt(g, 782, 903, "Survival probability", 23.5, "middle", -90);
  txt(g, 1169, 737, "Joint", 20);
  const ly = d3.scalePoint().domain(kmNames).range([759.3, 803]);
  kmNames.forEach((n, i) => {
    g.append("line").attr("x1", 1179).attr("x2", 1196).attr("y1", ly(n)).attr("y2", ly(n)).attr("stroke", kmColors[i]).attr("stroke-width", 2.5);
    g.append("line").attr("x1", 1187.5).attr("x2", 1187.5).attr("y1", ly(n) - 4).attr("y2", ly(n) + 4).attr("stroke", kmColors[i]).attr("stroke-opacity", .6);
    txt(g, 1198, ly(n), n, 21.5);
  });
  txt(g, 870, 1023, "p < 0.0001", 21);

  // risk table
  g.append("rect").attr("x", left).attr("y", 1055).attr("width", right - left).attr("height", 52.7).attr("fill", "none").attr("stroke", "#808080").attr("stroke-width", 1.5);
  const rowY = d3.scalePoint().domain(kmNames).range([1065, 1097.7]);
  kmNames.forEach((n, i) => {
    g.append("line").attr("x1", left).attr("x2", right).attr("y1", rowY(n)).attr("y2", rowY(n)).attr("stroke", "#ececec");
    g.append("line").attr("x1", left - 4).attr("x2", left).attr("y1", rowY(n)).attr("y2", rowY(n)).attr("stroke", "#444");
    const lab = txt(g, 837, rowY(n), n, 21, "end");
    lab.style("fill", "#4d4d4d");
    riskTimes.forEach((t, j) => txt(g, x(t) + (t === 0 ? 1 : 0), rowY(n), riskCounts[i][j], 21, "middle"));
  });
  txt(g, 793, 1078, "Joint", 19, "middle", -90);
  riskTimes.forEach((t) => {
    g.append("line").attr("x1", x(t)).attr("x2", x(t)).attr("y1", 1050.7).attr("y2", 1055).attr("stroke", "#444");
    g.append("line").attr("x1", x(t)).attr("x2", x(t)).attr("y1", 1107.7).attr("y2", 1111).attr("stroke", "#444");
    txt(g, x(t) - 3, 1121, t, 20, "middle").style("fill", "#4d4d4d");
  });
  txt(g, 1044, 1132, "Time", 20, "middle");
})();

// ---------- G
(function () {
  const g = svg.append("g");
  const heatColor = d3.scaleLinear().domain([-2, -1, 0, 1, 2]).range(["#4356b5", "#a9a8d8", "#ffffff", "#f4977f", "#d9392b"]).clamp(true);
  const rowY = d3.scaleBand().domain(heatGenes.slice(0, typeCounts[0])).range([1228.8, 1647.4]);
  const rowYp = d3.scaleBand().domain(heatGenes.slice(typeCounts[0])).range([1650.4, 1759]);
  const yOf = (gene) => rowY(gene) !== undefined ? rowY(gene) : rowYp(gene);
  const blocks = [[heatIC1, 88.9, 272.4], [heatIC2, 275.4, 519], [heatIC3, 522.6, 663]];

  blocks.forEach(([rows, x0, x1], b) => {
    rows.forEach((s, r) => {
      const col = d3.scaleBand().domain(d3.range(s.length)).range([x0, x1]);
      s.split("").forEach((ch, i) =>
        g.append("rect").attr("x", col(i)).attr("y", yOf(heatGenes[r])).attr("width", col.bandwidth() + 0.4).attr("height", rowY.bandwidth() + 0.3)
          .attr("fill", heatColor(heatLevels[ch])));
    });
    [[1228.8, 1647.4], [1650.4, 1759]].forEach(([a, c]) =>
      g.append("rect").attr("x", x0).attr("y", a).attr("width", x1 - x0).attr("height", c - a).attr("fill", "none").attr("stroke", "#222").attr("stroke-width", 1.2));
    g.append("rect").attr("x", x0).attr("y", 1207).attr("width", x1 - x0).attr("height", 19).attr("fill", clusterColors[b]);
    txt(g, (x0 + x1) / 2, 1217, clusterNames[b], 20, "middle");
  });
  txt(g, 666.7, 1215, "Cluster", 20);
  heatGenes.forEach((d) => txt(g, 666.7, yOf(d) + 10, d, 18));

  [[1228.8, 1647.4, 0, 1432], [1650.4, 1759, 1, 1694]].forEach(([a, c, t, mid]) => {
    g.append("rect").attr("x", 68).attr("y", a).attr("width", 17.4).attr("height", c - a).attr("fill", typeColors[t]);
    txt(g, 76.8, mid, heatTypes[t], 20, "middle", -90);
  });

  // legends
  txt(g, 786.7, 1328, "Type", 20);
  [[0, 1345.7], [1, 1361.7]].forEach(([i, y]) => {
    const idx = 1 - i;
    g.append("rect").attr("x", 786.7).attr("y", y).attr("width", 12.6).attr("height", 14.5).attr("fill", typeColors[idx]);
    txt(g, 804, y + 5 + i, heatTypes[idx], 20);
  });
  txt(g, 786.7, 1383, "exp(zscore)", 20);
  const bar = d3.scaleLinear().domain([-2, 2]).range([1475, 1406]);
  d3.range(-2.2, 2.2, 0.05).forEach((v) =>
    g.append("rect").attr("x", 785.7).attr("width", 15.3).attr("y", bar(v + 0.05)).attr("height", bar(v) - bar(v + 0.05) + 0.4).attr("fill", heatColor(v)));
  [-2, -1, 0, 1, 2].forEach((v) => {
    [[785.7, 789], [797.7, 801]].forEach(([a, c]) =>
      g.append("line").attr("x1", a).attr("x2", c).attr("y1", bar(v)).attr("y2", bar(v)).attr("stroke", "#fff"));
    txt(g, 804, bar(v) - 1, (v < 0 ? "−" : "") + Math.abs(v), 20);
  });
  txt(g, 897, 1331.7, "Cluster", 20);
  clusterNames.forEach((n, i) => {
    g.append("rect").attr("x", 897).attr("y", 1345.7 + i * 16).attr("width", 13.7).attr("height", 14.5).attr("fill", clusterColors[i]);
    txt(g, 915, 1350 + i * 17, n, 20);
  });
})();
</script>
</body>
</html>
